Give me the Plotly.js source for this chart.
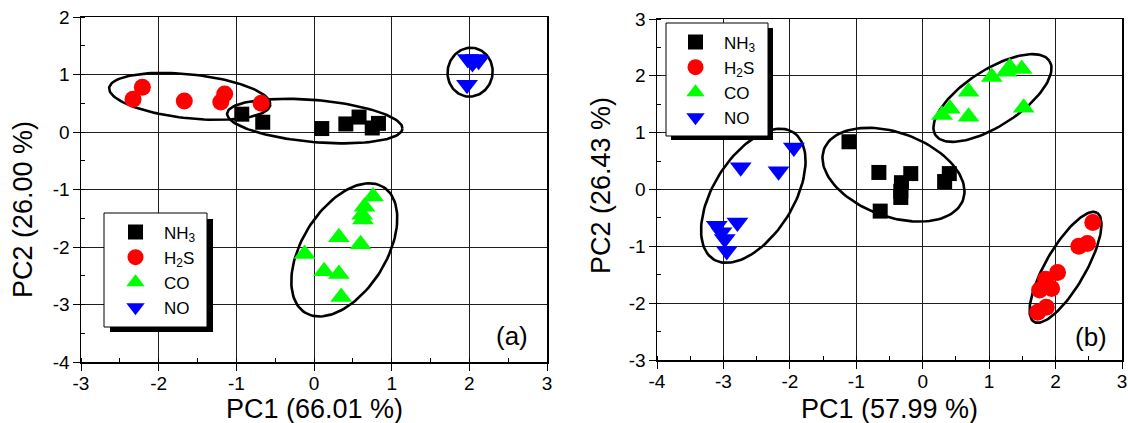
<!DOCTYPE html>
<html><head><meta charset="utf-8">
<script src="https://cdn.plot.ly/plotly-3.0.1.min.js"></script>
<style>html,body{margin:0;padding:0;background:#fff}#chart{width:1128px;height:423px}</style>
</head><body><div id="chart"></div>
<script>
// ---------- data ----------
const seriesNames = ['NH<sub>3</sub>', 'H<sub>2</sub>S', 'CO', 'NO'];
const seriesColors = ['#000000', '#ff0000', '#00ff00', '#0000ff'];
const seriesSymbols = ['square', 'circle', 'triangle-up', 'triangle-down'];

// panel (a)
const nh3A_x = [-0.93, -0.66, 0.10, 0.41, 0.58, 0.75, 0.83];
const nh3A_y = [0.31, 0.17, 0.06, 0.14, 0.26, 0.07, 0.15];
const h2sA_x = [-2.21, -2.33, -1.67, -1.15, -1.20, -0.68];
const h2sA_y = [0.78, 0.57, 0.54, 0.66, 0.52, 0.50];
const coA_x = [0.76, 0.65, 0.62, 0.63, 0.32, 0.60, -0.12, 0.13, 0.32, 0.35];
const coA_y = [-1.12, -1.30, -1.44, -1.52, -1.83, -1.95, -2.12, -2.42, -2.47, -2.87];
const noA_x = [1.98, 2.08, 2.04, 2.12, 1.97];
const noA_y = [1.27, 1.27, 1.20, 1.24, 0.82];

// panel (b)
const nh3B_x = [-1.11, -0.66, -0.64, -0.32, -0.33, -0.33, -0.18, 0.33, 0.40];
const nh3B_y = [0.84, 0.30, -0.38, 0.12, -0.03, -0.14, 0.28, 0.14, 0.28];
const h2sB_x = [2.56, 2.48, 2.35, 2.03, 1.85, 1.94, 1.76, 1.86, 1.73];
const h2sB_y = [-0.58, -0.95, -1.00, -1.46, -1.58, -1.74, -1.77, -2.07, -2.16];
const coB_x = [1.04, 1.26, 1.31, 1.49, 0.69, 0.41, 0.29, 0.69, 1.52];
const coB_y = [1.98, 2.07, 2.15, 2.12, 1.72, 1.42, 1.31, 1.28, 1.44];
const noB_x = [-1.94, -2.74, -2.17, -3.10, -2.79, -3.03, -2.98, -2.95];
const noB_y = [0.74, 0.39, 0.32, -0.64, -0.58, -0.75, -0.87, -1.08];

// cluster ellipses: centre (data units), semi-axes (px), tilt (deg)
const ellA_cx = [-1.60, 0.01, 2.01, 0.39];
const ellA_cy = [0.62, 0.19, 1.04, -2.05];
const ellA_a = [81, 88, 24.5, 74];
const ellA_b = [22, 21, 22.5, 42];
const ellA_t = [-6, -5, 80, 58];
const ellB_cx = [1.05, -0.44, -2.55, 2.15];
const ellB_cy = [1.61, 0.26, -0.11, -1.37];
const ellB_a = [68, 74, 75, 63];
const ellB_b = [28, 42, 40, 20];
const ellB_t = [33, -20, 58, 60];

// axes
const xRangeA = [-3, 3], yRangeA = [-4, 2];
const xRangeB = [-4, 3], yRangeB = [-3, 3];
const xTicksA = [-3, -2, -1, 0, 1, 2, 3], xTickTextA = ['-3', '-2', '-1', '0', '1', '2', '3'];
const yTicksA = [-4, -3, -2, -1, 0, 1, 2], yTickTextA = ['-4', '-3', '-2', '-1', '0', '1', '2'];
const xTicksB = [-4, -3, -2, -1, 0, 1, 2, 3], xTickTextB = ['-4', '-3', '-2', '-1', '0', '1', '2', '3'];
const yTicksB = [-3, -2, -1, 0, 1, 2, 3], yTickTextB = ['-3', '-2', '-1', '0', '1', '2', '3'];
const xTitleA = 'PC1 (66.01 %)', yTitleA = 'PC2 (26.00 %)';
const xTitleB = 'PC1 (57.99 %)', yTitleB = 'PC2 (26.43 %)';
const panelLabels = ['(a)', '(b)'];

// ---------- layout ----------
const W = 1128, H = 423;
const PX = v => v / W, PY = v => 1 - v / H;
const domXA = [PX(81), PX(547)], domYA = [PY(362), PY(17)];
const domXB = [PX(657), PX(1122)], domYB = [PY(360), PY(19)];
const FONT = 'Liberation Sans, Arial, Helvetica, sans-serif';

function ellipseTrace(cx, cy, a, b, tdeg, domX, domY, xr, yr, xa, ya) {
  const pxX = (domX[1] - domX[0]) * W / (xr[1] - xr[0]);
  const pxY = (domY[1] - domY[0]) * H / (yr[1] - yr[0]);
  const th = tdeg * Math.PI / 180;
  const xs = [], ys = [];
  for (let i = 0; i <= 120; i++) {
    const t = 2 * Math.PI * i / 120;
    const u = a * Math.cos(t), v = b * Math.sin(t);
    const dx = u * Math.cos(th) - v * Math.sin(th);
    const dy = u * Math.sin(th) + v * Math.cos(th);
    xs.push(cx + dx / pxX); ys.push(cy + dy / pxY);
  }
  return {x: xs, y: ys, xaxis: xa, yaxis: ya, mode: 'lines', type: 'scatter',
    line: {color: '#000', width: 2.6}, showlegend: false, hoverinfo: 'skip'};
}

const traces = [];
for (let i = 0; i < ellA_cx.length; i++)
  traces.push(ellipseTrace(ellA_cx[i], ellA_cy[i], ellA_a[i], ellA_b[i], ellA_t[i], domXA, domYA, xRangeA, yRangeA, 'x', 'y'));
for (let i = 0; i < ellB_cx.length; i++)
  traces.push(ellipseTrace(ellB_cx[i], ellB_cy[i], ellB_a[i], ellB_b[i], ellB_t[i], domXB, domYB, xRangeB, yRangeB, 'x2', 'y2'));

const markerSizes = [15, 17, 19, 19];
const dataA = [[nh3A_x, nh3A_y], [h2sA_x, h2sA_y], [coA_x, coA_y], [noA_x, noA_y]];
const dataB = [[nh3B_x, nh3B_y], [h2sB_x, h2sB_y], [coB_x, coB_y], [noB_x, noB_y]];
dataA.forEach((d, i) => traces.push({x: d[0], y: d[1], xaxis: 'x', yaxis: 'y', type: 'scatter', mode: 'markers',
  name: seriesNames[i], legend: 'legend',
  marker: {symbol: seriesSymbols[i], color: seriesColors[i], size: markerSizes[i], line: {width: 0}}}));
dataB.forEach((d, i) => traces.push({x: d[0], y: d[1], xaxis: 'x2', yaxis: 'y2', type: 'scatter', mode: 'markers',
  name: seriesNames[i], legend: 'legend2',
  marker: {symbol: seriesSymbols[i], color: seriesColors[i], size: markerSizes[i], line: {width: 0}}}));

function axis(range, domain, anchor, tv, tt, standoff) {
  return {range: range, domain: domain, anchor: anchor, tickmode: 'array', tickvals: tv, ticktext: tt,
    showline: true, linecolor: '#000', linewidth: 1.5,
    mirror: true, showgrid: true, gridcolor: '#1e1e1e', gridwidth: 1, zeroline: false,
    ticks: 'outside', ticklen: 7, tickwidth: 1, tickcolor: '#000', ticklabelstandoff: standoff,
    tickfont: {size: 19, color: '#000', family: FONT},
    minor: {ticks: 'inside', ticklen: 4, dtick: 0.5, tickmode: 'linear', tickcolor: '#000', tickwidth: 1, showgrid: false},
    automargin: false, fixedrange: true};
}

function legendBox(x0, y0, x1, y1, off) {
  return [
    {type: 'rect', xref: 'paper', yref: 'paper', x0: PX(x0 + off), x1: PX(x1 + off), y0: PY(y1 + off - 1), y1: PY(y0 + off),
      fillcolor: '#000', line: {width: 0}, layer: 'above'},
    {type: 'rect', xref: 'paper', yref: 'paper', x0: PX(x0), x1: PX(x1), y0: PY(y1), y1: PY(y0),
      fillcolor: '#fff', line: {color: '#000', width: 1}, layer: 'above'}
  ];
}

function ann(text, x, y, size, angle) {
  return {text: text, xref: 'paper', yref: 'paper', x: PX(x), y: PY(y), xanchor: 'center', yanchor: 'middle',
    showarrow: false, textangle: angle || 0, font: {size: size, color: '#000', family: FONT}};
}

const legendCommon = {xanchor: 'left', yanchor: 'top', bgcolor: 'rgba(0,0,0,0)', borderwidth: 0,
  font: {size: 17, color: '#000', family: FONT}, itemwidth: 47, tracegroupgap: 0, itemclick: false, itemdoubleclick: false};

const layout = {
  width: W, height: H, margin: {l: 0, r: 0, t: 0, b: 0},
  paper_bgcolor: '#fff', plot_bgcolor: '#fff',
  font: {family: FONT, color: '#000'},
  xaxis: axis(xRangeA, domXA, 'y', xTicksA, xTickTextA, -3),
  yaxis: axis(yRangeA, domYA, 'x', yTicksA, yTickTextA, -1),
  xaxis2: axis(xRangeB, domXB, 'y2', xTicksB, xTickTextB, -3),
  yaxis2: axis(yRangeB, domYB, 'x2', yTicksB, yTickTextB, -1),
  showlegend: true,
  legend: Object.assign({x: PX(107), y: PY(214.5)}, legendCommon),
  legend2: Object.assign({x: PX(667), y: PY(24.5)}, legendCommon),
  shapes: [].concat(legendBox(104, 213, 207, 327, 6), legendBox(666, 23, 768, 136, 5)),
  annotations: [
    ann(xTitleA, 314, 409, 27), ann(xTitleB, 889, 409, 27),
    ann(yTitleA, 23, 210, 27, -90), ann(yTitleB, 601, 186, 27, -90),
    ann(panelLabels[0], 512, 336, 26), ann(panelLabels[1], 1091, 337, 26)
  ]
};

Plotly.newPlot('chart', traces, layout, {staticPlot: true, displayModeBar: false});
</script>
</body></html>
